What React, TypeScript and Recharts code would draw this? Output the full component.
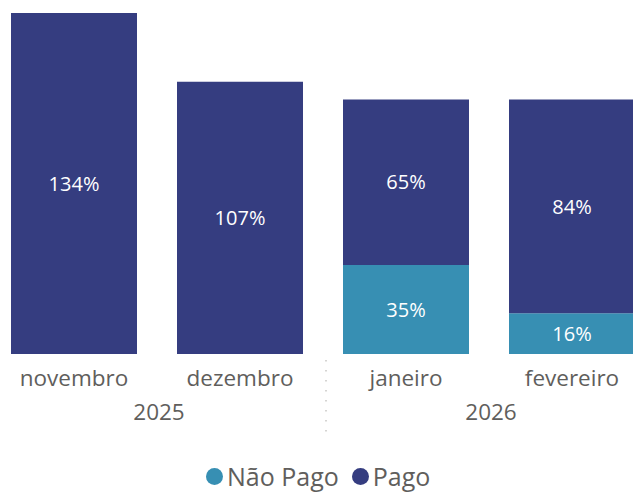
import { BarChart, Bar, XAxis, YAxis, LabelList } from 'recharts';

// ── Data ────────────────────────────────────────────────────────────────────
const MONTHS = ['novembro', 'dezembro', 'janeiro', 'fevereiro'];
const YEARS = ['2025', '2025', '2026', '2026'];
const NAO_PAGO = [null, null, 35, 16];
const PAGO = [134, 107, 65, 84];

const DATA = MONTHS.map((m, i) => ({
    month: m,
    year: YEARS[i],
    naoPago: NAO_PAGO[i],
    pago: PAGO[i],
}));

const NAVY = '#353D80';
const TEAL = '#378FB3';
const GREY = '#605E5C';
const FONT = "'Segoe UI', 'Open Sans', sans-serif";

const W = 633;
const ML = -9;
const MR = -22;
const HALF_BAND = (W - ML - MR) / MONTHS.length / 2;

const fmt = (v: any) => (v == null ? '' : `${v}%`);

const MonthTick = ({ x, y, payload }: any) => (
    <text x={x} y={y + 32} textAnchor="middle" fill={GREY} fontSize={22.5} fontFamily={FONT}>
        {payload.value}
    </text>
);

const YearTick = ({ x, y, payload, index }: any) => (
    <g>
        {index === 1 && (
            <line
                x1={x - HALF_BAND * 2 + 3}
                x2={x - HALF_BAND * 2 + 3}
                y1={y - 24}
                y2={y + 48}
                stroke="#C8C6C4"
                strokeWidth={1.5}
                strokeDasharray="1.5 8.5"
            />
        )}
        <text x={x + 2} y={y + 36} textAnchor="middle" fill={GREY} fontSize={22.5} fontFamily={FONT}>
            {payload.value}
        </text>
    </g>
);

export default function App() {
    return (
        <div
            style={{
                position: 'absolute',
                left: 0,
                top: 0,
                width: W,
                height: 493,
                overflow: 'hidden',
                background: '#fff',
                fontFamily: FONT,
            }}
        >
            <BarChart
                width={W}
                height={440}
                data={DATA}
                margin={{ top: 13, right: MR, left: ML, bottom: 0 }}
                barCategoryGap={20}
            >
                <YAxis hide domain={[0, 134]} />
                <XAxis
                    dataKey="month"
                    axisLine={false}
                    tickLine={false}
                    tickSize={0}
                    tickMargin={0}
                    height={30}
                    tick={<MonthTick />}
                    interval={0}
                />
                <XAxis
                    xAxisId="year"
                    dataKey="year"
                    allowDuplicatedCategory={false}
                    axisLine={false}
                    tickLine={false}
                    tickSize={0}
                    tickMargin={0}
                    height={56}
                    tick={<YearTick />}
                    interval={0}
                />
                <Bar dataKey="naoPago" name="Não Pago" stackId="a" fill={TEAL} isAnimationActive={false}>
                    <LabelList dataKey="naoPago" position="center" formatter={fmt} fill="#fff" fontSize={20} fontFamily={FONT} />
                </Bar>
                <Bar dataKey="pago" name="Pago" stackId="a" fill={NAVY} isAnimationActive={false}>
                    <LabelList dataKey="pago" position="center" formatter={fmt} fill="#fff" fontSize={20} fontFamily={FONT} />
                </Bar>
            </BarChart>

            {/* Legend */}
            <div
                style={{
                    position: 'absolute',
                    top: 462,
                    left: 206,
                    display: 'flex',
                    alignItems: 'center',
                    fontSize: 25,
                    color: GREY,
                    lineHeight: '28px',
                }}
            >
                <span style={{ width: 17, height: 17, borderRadius: '50%', background: TEAL, display: 'inline-block' }} />
                <span style={{ marginLeft: 4 }}>Não Pago</span>
                <span style={{ width: 17, height: 17, borderRadius: '50%', background: NAVY, display: 'inline-block', marginLeft: 13 }} />
                <span style={{ marginLeft: 4 }}>Pago</span>
            </div>
        </div>
    );
}
